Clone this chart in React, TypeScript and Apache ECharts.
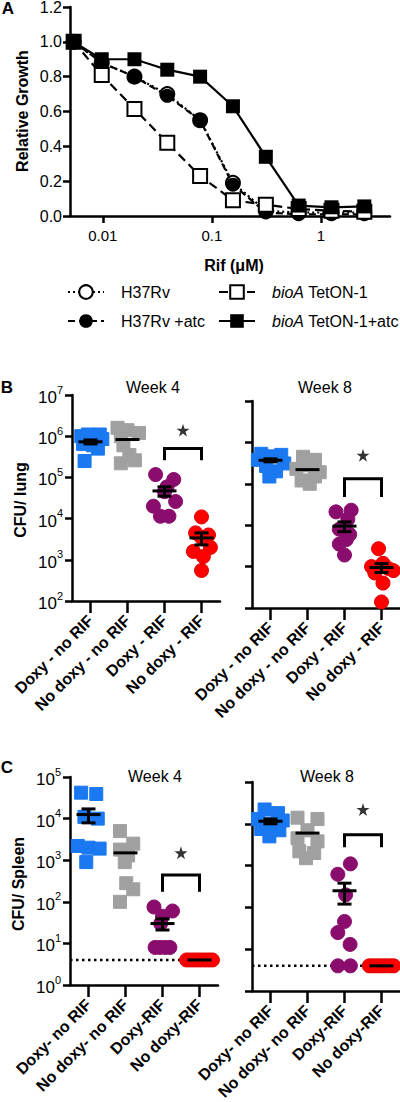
import React, { useEffect, useRef } from "react";
import * as echarts from "echarts";

const FONT = "'Liberation Sans', Arial, Helvetica, sans-serif";

// ---------- Panel A: relative growth vs rifampicin ----------
const rifDoses = [0.0054, 0.00977, 0.0195, 0.039, 0.078, 0.156, 0.3125, 0.625, 1.25, 2.5];
const growthH37Rv = [1.0, 0.88, 0.8, 0.7, 0.55, 0.19, 0.03, 0.02, 0.02, 0.02];
const growthH37RvAtc = [1.0, 0.88, 0.8, 0.69, 0.55, 0.18, 0.02, 0.01, 0.01, 0.01];
const growthBioA = [1.0, 0.81, 0.615, 0.42, 0.23, 0.09, 0.065, 0.04, 0.03, 0.025];
const growthBioAAtc = [1.0, 0.9, 0.9, 0.84, 0.8, 0.63, 0.34, 0.06, 0.05, 0.055];
const rifTickValues = [0.01, 0.1, 1];
const seriesNamesA = ["H37Rv", "H37Rv +atc", "bioA TetON-1", "bioA TetON-1+atc"];

// ---------- Panels B & C: categories ----------
const lungCategories = ["Doxy - no RIF", "No doxy - no RIF", "Doxy - RIF", "No doxy - RIF"];
const spleenCategories = ["Doxy- no RIF", "No doxy- no RIF", "Doxy-RIF", "No doxy-RIF"];

// ---------- Panel B, week 4 (CFU / lung) ----------
const lungW4Values = [
  [1.0e6, 1.1e6, 1.1e6, 8.5e5, 6.5e5, 6.0e5, 5.0e5, 2.5e5],
  [1.6e6, 1.4e6, 1.2e6, 1.0e6, 6.0e5, 3.5e5, 2.6e5, 2.2e5],
  [1.17e5, 8.9e4, 5.9e4, 4.5e4, 2.6e4, 2.0e4, 1.14e4, 1.14e4],
  [1.1e4, 4.5e3, 4.0e3, 3.5e3, 2.0e3, 1.6e3, 1.2e3, 5.5e2],
];
const lungW4Jitter = [
  [-0.25, -0.07, 0.25, 0.32, -0.2, 0.07, 0.2, -0.16],
  [-0.27, 0, 0.31, -0.18, -0.11, 0.05, 0.2, -0.18],
  [-0.24, 0.25, 0.07, 0, 0.3, -0.3, -0.11, 0.12],
  [0, -0.16, 0.19, 0, 0.24, -0.22, 0.05, 0],
];
const lungW4Mean = [7.3e5, 8.3e5, 4.7e4, 3.4e3];
const lungW4Sem = [8e4, 0, 1.2e4, 1.1e3];

// ---------- Panel B, week 8 ----------
const lungW8Values = [
  [5.3e5, 5.0e5, 4.6e5, 3.8e5, 3.1e5, 2.7e5, 2.0e5, 1.5e5],
  [4.5e5, 3.8e5, 2.8e5, 2.3e5, 1.9e5, 1.5e5, 1.2e5, 1.0e5],
  [2.3e4, 2.1e4, 1.4e4, 8.0e3, 6.0e3, 4.5e3, 3.5e3, 1.9e3],
  [2.7e3, 1.2e3, 1.0e3, 9.0e2, 8.0e2, 7.0e2, 4.0e2, 1.4e2],
];
const lungW8Jitter = [
  [-0.25, 0.29, 0, -0.34, 0.37, -0.12, 0.15, -0.03],
  [-0.12, 0.2, -0.03, -0.3, 0.33, 0.2, -0.16, 0.06],
  [0.18, -0.23, 0.09, -0.14, 0.14, 0.05, -0.14, 0],
  [-0.08, 0.04, -0.27, 0.18, 0.32, -0.18, 0.04, 0],
];
const lungW8Mean = [3.7e5, 2.2e5, 9.5e3, 9.5e2];
const lungW8Sem = [3e4, 0, 2.5e3, 2.3e2];

// ---------- Panel C, week 4 (CFU / spleen) ----------
const spleenW4Values = [
  [4.2e4, 3.9e4, 1.1e4, 1.0e4, 2.2e3, 2.0e3, 1.9e3, 9.0e2],
  [5.0e3, 2.5e3, 1.8e3, 1.3e3, 9.0e2, 2.8e2, 2.0e2, 1.0e2],
  [75, 60, 45, 30, 8, 8, 8, 8],
  [4, 4, 4, 4, 4, 4, 4, 4],
];
const spleenW4Jitter = [
  [-0.2, 0.21, -0.11, 0.25, -0.29, 0, 0.3, -0.06],
  [-0.15, 0.21, -0.15, 0.07, -0.02, 0.02, 0.21, -0.15],
  [-0.23, 0.27, 0, -0.05, -0.2, -0.07, 0.07, 0.2],
  [-0.35, -0.25, -0.15, -0.05, 0.05, 0.15, 0.25, 0.35],
];
const spleenW4Mean = [1.25e4, 1.5e3, 30, 4];
const spleenW4Sem = [4.6e3, 0, 9, 0];

// ---------- Panel C, week 8 ----------
const spleenW8Values = [
  [2.2e4, 1.8e4, 1.3e4, 1.2e4, 1.0e4, 7.5e3, 7.0e3, 5.0e3],
  [1.4e4, 1.3e4, 7.0e3, 4.5e3, 3.8e3, 2.2e3, 2.0e3, 1.5e3],
  [1100, 620, 200, 46, 25, 13, 4, 4],
  [4, 4, 4, 4, 4, 4, 4, 4],
];
const spleenW8Jitter = [
  [-0.16, 0.2, -0.34, 0.33, 0, -0.25, 0.24, -0.03],
  [-0.27, 0.27, 0, -0.27, 0.27, -0.22, 0.18, -0.04],
  [0.16, -0.18, 0.03, 0, -0.18, 0.15, -0.18, 0.16],
  [-0.33, -0.24, -0.14, -0.05, 0.05, 0.14, 0.24, 0.33],
];
const spleenW8Mean = [1.15e4, 6.0e3, 250, 4];
const spleenW8Sem = [1.5e3, 0, 130, 0];

// significance brackets (Doxy-RIF vs No doxy-RIF): [legEnd, top, star]
const bracketLungW4 = [2.6e5, 5.0e5, 1.4e6];
const bracketLungW8 = [4.8e4, 1.33e5, 4.9e5];
const bracketSpleenW4 = [174, 443, 1.5e3];
const bracketSpleenW8 = [2.76e3, 5.5e3, 2.2e4];
const spleenLimitOfDetection = 4;

const STAR =
  "path://M12 0 L14.8 8.6 L23.8 8.6 L16.5 13.9 L19.3 22.5 L12 17.2 L4.7 22.5 L7.5 13.9 L0.2 8.6 L9.2 8.6 Z";

const groupStyles = [
  { symbol: "rect", size: 13, color: "#1a78f0", border: "#1a78f0" },
  { symbol: "rect", size: 13, color: "#a0a0a0", border: "#a0a0a0" },
  { symbol: "circle", size: 14, color: "#8a0c6c", border: "#8a0c6c" },
  { symbol: "circle", size: 14, color: "#ff0000", border: "#e00000" },
];

const axisLineStyle = { color: "#000", width: 2.5 };

function supLabel(v: number) {
  const e = Math.round(Math.log10(v));
  return `{b|10}{s|${e}}`;
}

const supRich = {
  b: { fontSize: 17, fontFamily: FONT, color: "#000", lineHeight: 22, verticalAlign: "bottom" },
  s: { fontSize: 11, fontFamily: FONT, color: "#000", lineHeight: 12, verticalAlign: "top" },
};

function dotPanel(
  idx: number,
  cats: string[],
  values: number[][],
  jitter: number[][],
  means: number[],
  sems: number[],
  bracket: number[],
  yMin: number,
  yMax: number,
  showYLabels: boolean,
  lod: number | null
) {
  const xAxis = {
    type: "value",
    gridIndex: idx,
    min: -0.5,
    max: 3.5,
    axisLine: { show: true, onZero: false, lineStyle: axisLineStyle },
    axisTick: { show: true, customValues: [0, 1, 2, 3], length: 12, lineStyle: axisLineStyle },
    axisLabel: {
      customValues: [0, 1, 2, 3],
      formatter: (v: number) => cats[Math.round(v)],
      rotate: 45,
      fontSize: 16,
      fontWeight: "bold",
      fontFamily: FONT,
      color: "#000",
      margin: 17,
    },
    splitLine: { show: false },
  };
  const yAxis = {
    type: "log",
    logBase: 10,
    gridIndex: idx,
    min: yMin,
    max: yMax,
    axisLine: { show: true, onZero: false, lineStyle: axisLineStyle },
    axisTick: { show: true, length: 7, lineStyle: axisLineStyle },
    axisLabel: {
      show: showYLabels,
      formatter: supLabel,
      rich: supRich,
      margin: 9,
    },
    splitLine: { show: false },
    minorTick: { show: false },
  };
  const series: any[] = [];
  if (lod !== null) {
    series.push({
      type: "line",
      xAxisIndex: idx,
      yAxisIndex: idx,
      data: [
        [-0.5, lod],
        [3.5, lod],
      ],
      symbol: "none",
      lineStyle: { color: "#000", width: 2.5, type: [2.5, 3.5] },
      z: 1,
      silent: true,
    });
  }
  values.forEach((vals, gi) => {
    const st = groupStyles[gi];
    series.push({
      type: "scatter",
      xAxisIndex: idx,
      yAxisIndex: idx,
      data: vals.map((v, j) => [gi + jitter[gi][j], v]),
      symbol: st.symbol,
      symbolSize: st.size,
      itemStyle: { color: st.color, borderColor: st.border, borderWidth: 1, opacity: 1 },
      z: 2,
    });
  });
  series.push({
    type: "custom",
    xAxisIndex: idx,
    yAxisIndex: idx,
    encode: { x: 0, y: 1 },
    data: means.map((m, i) => [i, m, m - sems[i], m + sems[i]]),
    z: 5,
    renderItem: (params: any, api: any) => {
      const x = api.value(0);
      const m = api.value(1);
      const lo = api.value(2);
      const hi = api.value(3);
      const pm = api.coord([x, m]);
      const style = { stroke: "#000", lineWidth: 3, fill: "none" };
      const children: any[] = [
        { type: "line", shape: { x1: pm[0] - 12, y1: pm[1], x2: pm[0] + 12, y2: pm[1] }, style },
      ];
      if (hi > m && lo > 0) {
        const plo = api.coord([x, lo]);
        const phi = api.coord([x, hi]);
        children.push(
          { type: "line", shape: { x1: pm[0], y1: plo[1], x2: pm[0], y2: phi[1] }, style },
          { type: "line", shape: { x1: pm[0] - 7, y1: plo[1], x2: pm[0] + 7, y2: plo[1] }, style },
          { type: "line", shape: { x1: pm[0] - 7, y1: phi[1], x2: pm[0] + 7, y2: phi[1] }, style }
        );
      }
      return { type: "group", children };
    },
  });
  series.push({
    type: "line",
    xAxisIndex: idx,
    yAxisIndex: idx,
    data: [
      [2, bracket[0]],
      [2, bracket[1]],
      [3, bracket[1]],
      [3, bracket[0]],
    ],
    symbol: "none",
    lineStyle: { color: "#000", width: 3, cap: "butt", join: "miter" },
    z: 4,
  });
  series.push({
    type: "scatter",
    xAxisIndex: idx,
    yAxisIndex: idx,
    data: [[2.5, bracket[2]]],
    symbol: STAR,
    symbolSize: 13,
    itemStyle: { color: "#000" },
    z: 4,
  });
  return { xAxis, yAxis, series };
}

function text(t: string, x: number, y: number, size: number, bold: boolean, rotation = 0) {
  return {
    type: "text",
    x,
    y,
    rotation,
    style: {
      text: t,
      fontSize: size,
      fontWeight: bold ? "bold" : "normal",
      fontFamily: FONT,
      fill: "#000",
      align: "center",
      verticalAlign: "middle",
    },
  };
}

function buildOption() {
  const lineA = (
    name: string,
    vals: number[],
    symbol: string,
    filled: boolean,
    dash: any
  ) => ({
    type: "line",
    name,
    xAxisIndex: 0,
    yAxisIndex: 0,
    data: rifDoses.map((d, i) => [d, vals[i]]),
    symbol,
    symbolSize: 14,
    showSymbol: true,
    lineStyle: { color: "#000", width: 2.2, type: dash },
    itemStyle: {
      color: filled ? "#000" : "#fff",
      borderColor: "#000",
      borderWidth: filled ? 0 : 2,
    },
  });

  const seriesA = [
    lineA(seriesNamesA[0], growthH37Rv, "circle", false, [2, 3]),
    lineA(seriesNamesA[1], growthH37RvAtc, "circle", true, [7, 4]),
    lineA(seriesNamesA[2], growthBioA, "rect", false, [9, 5]),
    lineA(seriesNamesA[3], growthBioAAtc, "rect", true, "solid"),
  ];

  const pB4 = dotPanel(1, lungCategories, lungW4Values, lungW4Jitter, lungW4Mean, lungW4Sem, bracketLungW4, 1e2, 1e7, true, null);
  const pB8 = dotPanel(2, lungCategories, lungW8Values, lungW8Jitter, lungW8Mean, lungW8Sem, bracketLungW8, 1e2, 1e7, false, null);
  const pC4 = dotPanel(3, spleenCategories, spleenW4Values, spleenW4Jitter, spleenW4Mean, spleenW4Sem, bracketSpleenW4, 1, 1e5, true, spleenLimitOfDetection);
  const pC8 = dotPanel(4, spleenCategories, spleenW8Values, spleenW8Jitter, spleenW8Mean, spleenW8Sem, bracketSpleenW8, 1, 1e5, false, spleenLimitOfDetection);

  const legendText = {
    fontSize: 16,
    fontFamily: FONT,
    color: "#000",
    rich: {
      n: { fontSize: 16, fontFamily: FONT, color: "#000" },
      p: { fontSize: 16, fontFamily: FONT, color: "#000", padding: [0, 0, 0, 12] },
      i: { fontSize: 16, fontFamily: FONT, color: "#000", fontStyle: "italic", padding: [0, 0, 0, 12] },
    },
  };
  const legendFmt = (name: string) =>
    name.startsWith("bioA") ? `{i|bioA}{n|${name.slice(4)}}` : `{p|${name}}`;
  const legendBase = {
    itemWidth: 36,
    itemHeight: 17,
    itemGap: 0,
    padding: 0,
    formatter: legendFmt,
    textStyle: legendText,
    selectedMode: false,
  };

  return {
    animation: false,
    textStyle: { fontFamily: FONT },
    grid: [
      { left: 70, top: 7, width: 320, height: 209, outerBoundsMode: "none" },
      { left: 72, top: 395, width: 148, height: 206, outerBoundsMode: "none" },
      { left: 252, top: 401, width: 148, height: 207, outerBoundsMode: "none" },
      { left: 70, top: 777, width: 148, height: 208, outerBoundsMode: "none" },
      { left: 252, top: 782, width: 148, height: 209, outerBoundsMode: "none" },
    ],
    legend: [
      { ...legendBase, data: [seriesNamesA[0]], left: 67, top: 284 },
      { ...legendBase, data: [seriesNamesA[1]], left: 67, top: 313 },
      { ...legendBase, data: [seriesNamesA[2]], left: 218, top: 284 },
      { ...legendBase, data: [seriesNamesA[3]], left: 218, top: 313 },
    ],
    xAxis: [
      {
        type: "log",
        logBase: 10,
        gridIndex: 0,
        min: 0.005,
        max: 4.3,
        axisLine: { show: true, onZero: false, lineStyle: axisLineStyle },
        axisTick: { show: true, customValues: rifTickValues, length: 7, lineStyle: axisLineStyle },
        axisLabel: {
          customValues: rifTickValues,
          formatter: (v: number) => String(v),
          fontSize: 15,
          fontFamily: FONT,
          color: "#000",
          margin: 12,
        },
        splitLine: { show: false },
        minorTick: { show: false },
      },
      pB4.xAxis,
      pB8.xAxis,
      pC4.xAxis,
      pC8.xAxis,
    ],
    yAxis: [
      {
        type: "value",
        gridIndex: 0,
        min: 0,
        max: 1.2,
        interval: 0.2,
        axisLine: { show: true, onZero: false, lineStyle: axisLineStyle },
        axisTick: { show: true, length: 7, lineStyle: axisLineStyle },
        axisLabel: {
          formatter: (v: number) => v.toFixed(1),
          fontSize: 16,
          fontFamily: FONT,
          color: "#000",
          margin: 8,
        },
        splitLine: { show: false },
      },
      pB4.yAxis,
      pB8.yAxis,
      pC4.yAxis,
      pC8.yAxis,
    ],
    series: [...seriesA, ...pB4.series, ...pB8.series, ...pC4.series, ...pC8.series],
    graphic: [
      text("A", 8, 8, 17, true),
      text("Relative Growth", 22, 111, 16, true, Math.PI / 2),
      text("Rif (\u03bcM)", 234, 265, 16, true),
      text("B", 7, 387, 17, true),
      text("Week 4", 153, 387, 16, false),
      text("Week 8", 325, 387, 16, false),
      text("CFU/ lung", 20, 500, 16, true, Math.PI / 2),
      text("C", 7, 767, 17, true),
      text("Week 4", 155, 776, 16, false),
      text("Week 8", 327, 776, 16, false),
      text("CFU/ Spleen", 18, 884, 16, true, Math.PI / 2),
    ],
  };
}

export default function App() {
  const ref = useRef<HTMLDivElement>(null);
  useEffect(() => {
    if (!ref.current) return;
    const chart = echarts.init(ref.current, null, { renderer: "svg" });
    chart.setOption(buildOption() as any);
    return () => chart.dispose();
  }, []);
  return (
    <div
      ref={ref}
      style={{ position: "absolute", left: 0, top: 0, width: 400, height: 1102, background: "#fff" }}
    />
  );
}
